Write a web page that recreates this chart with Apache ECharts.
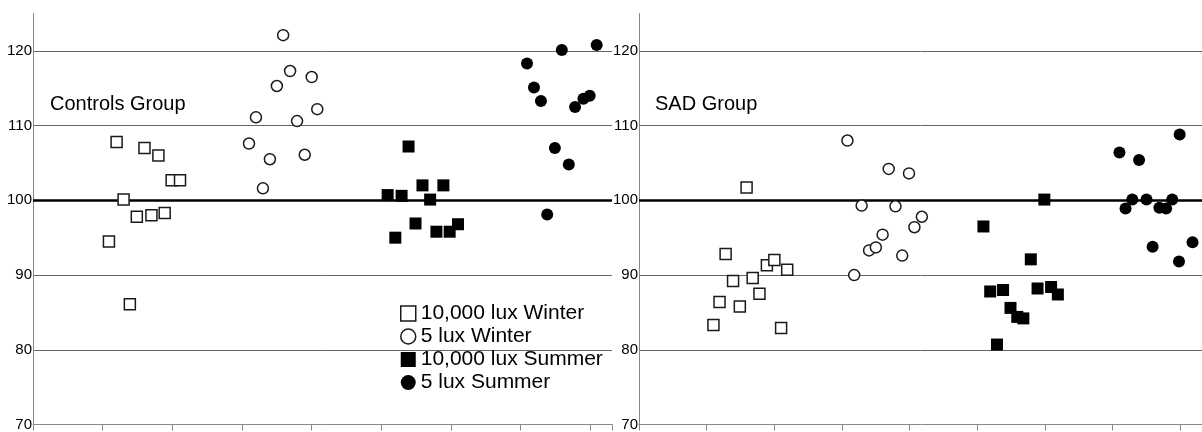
<!DOCTYPE html>
<html>
<head>
<meta charset="utf-8">
<title>Controls vs SAD</title>
<script src="https://cdn.jsdelivr.net/npm/echarts@6.0.0/dist/echarts.min.js"></script>
<style>
  html, body { margin: 0; padding: 0; background: #fff; }
  #chart { width: 1202px; height: 432px; }
</style>
</head>
<body>
<div id="chart"></div>
<script>
// [jittered x, value] pairs
const ctrlBrightWinter = [[1.20,107.8],[1.60,107.0],[1.80,106.0],[1.99,102.7],[2.11,102.7],[1.30,100.1],[1.49,97.8],[1.70,98.0],[1.89,98.3],[1.09,94.5],[1.39,86.1]];
const ctrlDimWinter = [[3.59,122.1],[3.69,117.3],[3.50,115.3],[4.00,116.5],[3.20,111.1],[4.08,112.2],[3.79,110.6],[3.10,107.6],[3.40,105.5],[3.90,106.1],[3.30,101.6]];
const ctrlBrightSummer = [[5.39,107.2],[5.09,100.7],[5.29,100.6],[5.59,102.0],[5.89,102.0],[5.70,100.1],[5.20,95.0],[5.49,96.9],[5.79,95.8],[5.98,95.8],[6.10,96.8]];
const ctrlDimSummer = [[7.09,118.3],[7.59,120.1],[8.09,120.8],[7.19,115.1],[7.29,113.3],[7.78,112.5],[7.90,113.6],[7.99,114.0],[7.49,107.0],[7.69,104.8],[7.38,98.1]];

const sadBrightWinter = [[1.59,101.7],[1.28,92.8],[1.10,83.3],[1.19,86.4],[1.39,89.2],[1.49,85.8],[1.68,89.6],[1.78,87.5],[1.89,91.3],[2.00,92.0],[2.10,82.9],[2.19,90.7]];
const sadDimWinter = [[3.08,108.0],[3.69,104.2],[3.99,103.6],[3.29,99.3],[3.79,99.2],[3.18,90.0],[3.40,93.3],[3.50,93.7],[3.60,95.4],[3.89,92.6],[4.07,96.4],[4.18,97.8]];
const sadBrightSummer = [[5.99,100.1],[5.09,96.5],[5.79,92.1],[5.19,87.8],[5.38,88.0],[5.49,85.6],[5.59,84.4],[5.68,84.2],[5.89,88.2],[6.09,88.4],[6.19,87.4],[5.29,80.7]];
const sadDimSummer = [[7.10,106.4],[7.39,105.4],[7.99,108.8],[7.19,98.9],[7.29,100.1],[7.50,100.1],[7.69,99.0],[7.79,98.9],[7.88,100.1],[7.59,93.8],[7.98,91.8],[8.18,94.4]];

const conditionNames = ['10,000 lux Winter', '5 lux Winter', '10,000 lux Summer', '5 lux Summer'];
const groupNames = ['Controls Group', 'SAD Group'];
const baselineValue = 100;

const FONT = 'Arial, "Liberation Sans", sans-serif';

const chart = echarts.init(document.getElementById('chart'), null, { renderer: 'canvas' });

// open markers for winter, filled for summer
const openStyle = { color: '#fff', borderColor: '#1a1a1a', borderWidth: 1.5, opacity: 1 };
const filledStyle = { color: '#000', borderWidth: 0, opacity: 1 };
const markerStyles = [
  { symbol: 'rect', symbolSize: 11, itemStyle: openStyle },
  { symbol: 'circle', symbolSize: 11, itemStyle: openStyle },
  { symbol: 'rect', symbolSize: 12, itemStyle: filledStyle },
  { symbol: 'circle', symbolSize: 12, itemStyle: filledStyle }
];

const panels = [
  [ctrlBrightWinter, ctrlDimWinter, ctrlBrightSummer, ctrlDimSummer],
  [sadBrightWinter, sadDimWinter, sadBrightSummer, sadDimSummer]
];

const xAxisFor = (idx, max) => ({
  type: 'value',
  gridIndex: idx,
  min: 0,
  max: max,
  interval: 1,
  axisLine: { show: true, lineStyle: { color: '#888', width: 1 } },
  axisTick: { show: true, inside: false, length: 6, lineStyle: { color: '#888' } },
  axisLabel: { show: false },
  splitLine: { show: false }
});

const yAxisFor = (idx) => ({
  type: 'value',
  gridIndex: idx,
  min: 70,
  max: 125,
  interval: 10,
  axisLine: { show: true, lineStyle: { color: '#888', width: 1 } },
  axisTick: { show: false },
  axisLabel: { color: '#000', fontSize: 15, fontFamily: FONT, margin: 1, showMaxLabel: false },
  splitLine: { show: true, showMaxLine: false, showMinLine: false, lineStyle: { color: '#666', width: 1 } }
});

const series = [];
panels.forEach((sets, p) => {
  sets.forEach((data, i) => {
    const s = {
      name: conditionNames[i],
      type: 'scatter',
      xAxisIndex: p,
      yAxisIndex: p,
      symbol: markerStyles[i].symbol,
      symbolSize: markerStyles[i].symbolSize,
      itemStyle: markerStyles[i].itemStyle,
      emphasis: { disabled: true },
      data: data,
      z: 3
    };
    if (i === 0) {
      s.markLine = {
        silent: true,
        z: 1,
        symbol: 'none',
        label: { show: false },
        lineStyle: { color: '#000', width: 2.5, type: 'solid', opacity: 1 },
        data: [{ yAxis: baselineValue }]
      };
    }
    series.push(s);
  });
});

const option = {
  animation: false,
  backgroundColor: '#fff',
  title: [
    { text: groupNames[0], left: 50, top: 94, padding: 0, textStyle: { fontSize: 20, fontWeight: 'normal', color: '#000', fontFamily: FONT } },
    { text: groupNames[1], left: 655, top: 94, padding: 0, textStyle: { fontSize: 20, fontWeight: 'normal', color: '#000', fontFamily: FONT } }
  ],
  legend: {
    orient: 'vertical',
    left: 400,
    top: 303,
    padding: 0,
    itemWidth: 15,
    itemHeight: 15,
    itemGap: 2,
    selectedMode: false,
    textStyle: { fontSize: 21, lineHeight: 21, color: '#000', fontFamily: FONT },
    data: conditionNames.map((name, i) => ({
      name: name,
      icon: markerStyles[i].symbol,
      itemStyle: markerStyles[i].itemStyle
    }))
  },
  grid: [
    { left: 33, top: 13.5, width: 579, height: 412.5 },
    { left: 639, top: 13.5, width: 569, height: 412.5 }
  ],
  xAxis: [xAxisFor(0, 8.31), xAxisFor(1, 8.32)],
  yAxis: [yAxisFor(0), yAxisFor(1)],
  series: series
};

chart.setOption(option);
</script>
</body>
</html>
